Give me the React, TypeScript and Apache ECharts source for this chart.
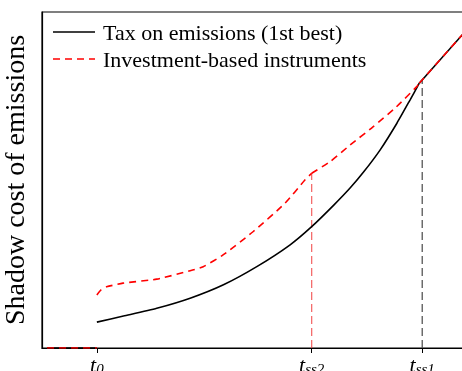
import React, { useEffect, useRef } from "react";
import * as echarts from "echarts";

// Time markers on the horizontal axis
const T0 = 13.0;
const TSS2 = 63.9;
const TSS1 = 90.1;
const tickValues = [T0, TSS2, TSS1];
const tickLabels = ["{t|t}{s|0}", "{t|t}{s|ss2}", "{t|t}{s|ss1}"];

// Before t0 both shadow costs sit at zero
const zeroSegment: number[][] = [[1.2, 0], [T0, 0]];

// First-best emissions tax: rises up to the steady state, then linear
const taxCurve: number[][] = [
  [T0, 7.7], [19.3, 9.5], [27.2, 11.8], [35.1, 14.8], [43.0, 18.8], [50.9, 24.2],
  [58.8, 30.7], [63.9, 36.1], [69.2, 42.6], [73.0, 47.6], [76.1, 52.2],
  [80.1, 58.9], [84.1, 66.9], [87.2, 73.8], [89.4, 78.8],
];
const taxTail: number[][] = [[89.4, 78.8], [100, 93.8]];

// Investment-based instruments
const invCurve1: number[][] = [
  [T0, 15.8], [14.0, 17.3], [15.3, 18.2], [19.2, 19.3], [27.2, 20.5], [35.1, 23.0],
  [38.2, 24.2], [42.9, 27.7], [50.0, 34.6], [57.6, 43.1], [62.3, 50.0], [TSS2, 52.0],
];
const invCurve2: number[][] = [
  [TSS2, 52.0], [68.3, 55.5], [73.0, 60.4], [78.5, 65.9], [84.0, 71.8], [88.8, 77.8], [89.4, 78.8],
];
const invTail: number[][] = [[89.4, 78.8], [100, 93.8]];

// Vertical guides at the switching times
const guideSS2: number[][] = [[TSS2, 0], [TSS2, 52.0]];
const guideSS1: number[][] = [[TSS1, 0], [TSS1, 79.8]];

const TAX = "Tax on emissions (1st best)";
const INV = "Investment-based instruments";
const SERIF = "'Liberation Serif', 'DejaVu Serif', serif";

export default function App() {
  const ref = useRef<HTMLDivElement>(null);

  useEffect(() => {
    if (!ref.current) return;
    const chart = echarts.init(ref.current, null, { renderer: "svg" });

    const blackLine = { color: "#000", width: 1.6, type: "solid" as const };
    const redLine = { color: "#ff0000", width: 1.6, type: [7, 5] as any };

    const lineSeries = (name: string, data: number[][], lineStyle: any, smooth: number | boolean, z = 3) => ({
      type: "line" as const,
      name,
      data,
      showSymbol: false,
      symbol: "none",
      smooth,
      lineStyle,
      itemStyle: { color: lineStyle.color },
      z,
      silent: true,
    });

    // Legend: a line sample followed by the series name
    const legendRow = (y: number, label: string, stroke: string, dash: number[] | null) => [
      {
        type: "line",
        shape: { x1: 53, y1: y, x2: 95, y2: y },
        style: { stroke, lineWidth: 1.6, lineDash: dash || undefined },
        z: 10,
      },
      {
        type: "text",
        x: 103,
        y,
        style: {
          text: label,
          fontFamily: SERIF,
          fontSize: 22,
          fill: "#000",
          verticalAlign: "middle",
          align: "left",
        },
        z: 10,
      },
    ];

    chart.setOption({
      animation: false,
      grid: {
        left: 42,
        top: 12,
        right: -2,
        bottom: 23,
        show: true,
        borderColor: "#000",
        borderWidth: 1.2,
        containLabel: false,
        outerBoundsMode: "none",
      },
      graphic: [
        ...legendRow(32, TAX, "#000", null),
        ...legendRow(59, INV, "#ff0000", [7, 5]),
      ],
      xAxis: {
        type: "value",
        min: 0,
        max: 100,
        splitLine: { show: false },
        axisLine: { show: true, onZero: false, lineStyle: { color: "#000", width: 1.2 } },
        axisTick: {
          show: true,
          customValues: tickValues,
          length: 5,
          lineStyle: { color: "#000", width: 1 },
        },
        axisLabel: {
          show: true,
          customValues: tickValues,
          margin: 5,
          formatter: (v: number) => {
            let best = 0;
            tickValues.forEach((t, i) => {
              if (Math.abs(t - v) < Math.abs(tickValues[best] - v)) best = i;
            });
            return tickLabels[best];
          },
          rich: {
            t: { fontFamily: SERIF, fontStyle: "italic", fontSize: 22, color: "#000" },
            s: { fontFamily: SERIF, fontStyle: "italic", fontSize: 15, color: "#000", padding: [8, 0, 0, 0] },
          },
        },
      },
      yAxis: {
        type: "value",
        min: 0,
        max: 100,
        name: "Shadow cost of emissions",
        nameLocation: "middle",
        nameGap: 14,
        nameTextStyle: { fontFamily: SERIF, fontSize: 28, color: "#000" },
        splitLine: { show: false },
        axisLine: { show: true, lineStyle: { color: "#000", width: 1.2 } },
        axisTick: { show: false },
        axisLabel: { show: false },
      },
      series: [
        lineSeries(TAX, taxCurve, blackLine, 0.2),
        lineSeries(TAX, taxTail, blackLine, false),
        lineSeries(TAX, zeroSegment, blackLine, false),
        lineSeries(INV, invCurve1, redLine, 0.2, 4),
        lineSeries(INV, invCurve2, redLine, 0.2, 4),
        lineSeries(INV, invTail, redLine, false, 4),
        lineSeries(INV, zeroSegment, redLine, false, 4),
        lineSeries("guide ss2", guideSS2, { color: "rgba(240,60,60,0.75)", width: 1.3, type: [8, 4] }, false, 2),
        lineSeries("guide ss1", guideSS1, { color: "#555", width: 1.3, type: [8, 4] }, false, 2),
      ],
    });

    return () => chart.dispose();
  }, []);

  return (
    <div
      ref={ref}
      style={{ position: "fixed", left: 0, top: 0, width: 462, height: 371 }}
    />
  );
}
